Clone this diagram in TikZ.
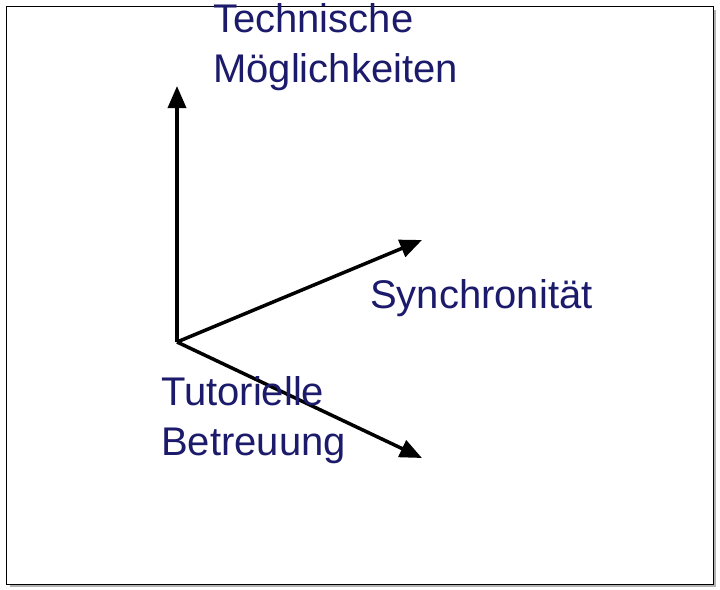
\documentclass[tikz,border=0pt]{standalone}
\usepackage{fontspec}
\usetikzlibrary{arrows.meta}
\setmainfont{Liberation Sans}
\definecolor{lbl}{HTML}{1C1A6A}
\begin{document}
\begin{tikzpicture}[x=1pt,y=-1pt,
  ax/.style={line width=3.5pt,-{Triangle[length=22pt,width=18pt]}},
  lab/.style={text=lbl,font=\fontsize{40}{50}\selectfont,anchor=base west,align=left,inner sep=0pt}]
\useasboundingbox (0,0) rectangle (720,589);
\fill[gray!60] (10,10) rectangle (716,587);
\draw[fill=white,line width=0.8pt] (6,6) rectangle (713,584);
\coordinate (o) at (177,342);
\coordinate (up) at (177,86);
\coordinate (r1) at (422,240);
\coordinate (r2) at (422,458);
\draw[ax] (o) -- (up);
\draw[ax] (o) -- (r1);
\draw[ax] (o) -- (r2);
\node[lab] (t1) at (213,82) {Technische\\Möglichkeiten};
\node[lab] (t2) at (370,308) {Synchronität};
\node[lab] (t3) at (161,455) {Tutorielle\\Betreuung};
\end{tikzpicture}
\end{document}
